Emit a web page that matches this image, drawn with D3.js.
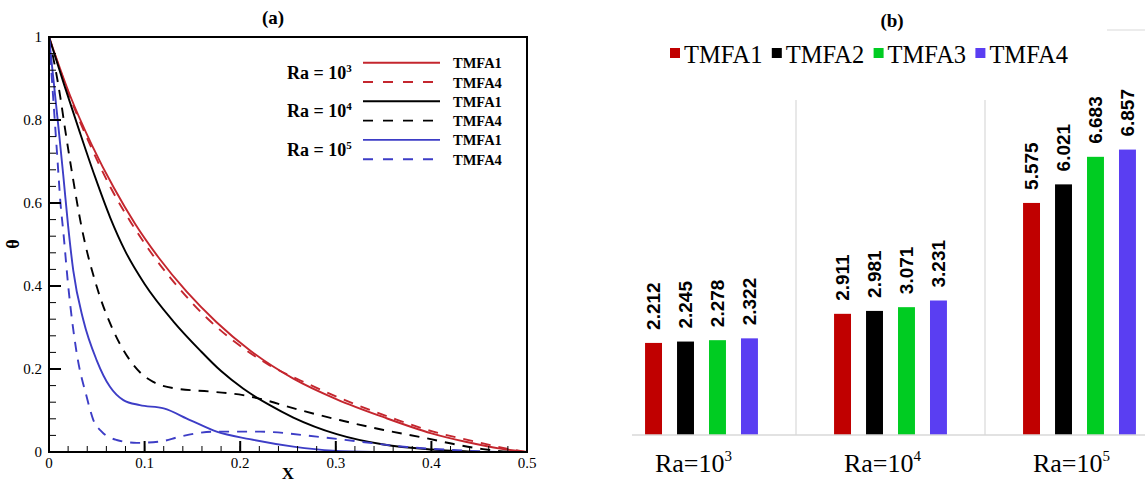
<!DOCTYPE html>
<html>
<head>
<meta charset="utf-8">
<script src="https://cdn.jsdelivr.net/npm/d3@7"></script>
<style>
  html, body { margin: 0; padding: 0; background: #fff; }
  svg { display: block; }
</style>
</head>
<body>
<svg id="fig" width="1145" height="483"></svg>
<script>
// ---------- (a) temperature profiles θ(X) ----------
const profileRa3TMFA1 = [[0,1],[0.022,0.859],[0.045,0.739],[0.068,0.636],[0.09,0.55],[0.115,0.4675],[0.144,0.3863],[0.175,0.3134],[0.21,0.2452],[0.2556,0.1768],[0.301,0.1269],[0.35,0.0838],[0.40,0.045],[0.437,0.024],[0.472,0.008],[0.5,0]];
const profileRa3TMFA4 = [[0,1],[0.02,0.867],[0.043,0.74],[0.065,0.635],[0.086,0.552],[0.11,0.47],[0.137,0.392],[0.166,0.321],[0.196,0.2625],[0.23,0.21],[0.273,0.162],[0.318,0.117],[0.36,0.081],[0.402,0.049],[0.444,0.026],[0.475,0.01],[0.5,0]];
const profileRa4TMFA1 = [[0,1],[0.016,0.884],[0.032,0.772],[0.048,0.664],[0.064,0.565],[0.08,0.483],[0.1,0.405],[0.13,0.315],[0.158,0.245],[0.18,0.195],[0.203,0.153],[0.23,0.114],[0.2556,0.083],[0.301,0.043],[0.35,0.018],[0.40,0.006],[0.45,0]];
const profileRa4TMFA4 = [[0,1],[0.0115,0.86],[0.0167,0.78],[0.025,0.66],[0.034,0.543],[0.05,0.398],[0.067,0.294],[0.085,0.22],[0.097,0.188],[0.109,0.169],[0.13,0.154],[0.172,0.145],[0.203,0.137],[0.221,0.128],[0.2626,0.101],[0.304,0.077],[0.35,0.053],[0.395,0.033],[0.426,0.018],[0.454,0.007],[0.48,0.001],[0.5,0]];
const profileRa5TMFA1 = [[0,1],[0.005,0.89],[0.01,0.78],[0.015,0.665],[0.02,0.545],[0.0254,0.437],[0.0359,0.318],[0.0499,0.221],[0.0638,0.157],[0.0778,0.125],[0.095,0.113],[0.12,0.105],[0.1475,0.077],[0.1754,0.049],[0.21,0.031],[0.2556,0.013],[0.297,0.003],[0.34,0]];
const profileRa5TMFA4 = [[0,1],[0.003,0.9],[0.006,0.8],[0.009,0.7],[0.012,0.6],[0.015,0.53],[0.0202,0.398],[0.029,0.238],[0.0394,0.133],[0.0464,0.077],[0.0551,0.049],[0.0708,0.029],[0.0917,0.022],[0.116,0.025],[0.137,0.037],[0.172,0.049],[0.2207,0.049],[0.28,0.037],[0.325,0.025],[0.374,0.012],[0.42,0.005],[0.47,0]];

const xTicksA = [0, 0.1, 0.2, 0.3, 0.4, 0.5];
const yTicksA = [0, 0.2, 0.4, 0.6, 0.8, 1];
const legendRaExponents = ["3", "4", "5"];

// ---------- (b) bar values ----------
const raExponents = ["3", "4", "5"];
const seriesNames = ["TMFA1", "TMFA2", "TMFA3", "TMFA4"];
const valuesTMFA1 = [2.212, 2.911, 5.575];
const valuesTMFA2 = [2.245, 2.981, 6.021];
const valuesTMFA3 = [2.278, 3.071, 6.683];
const valuesTMFA4 = [2.322, 3.231, 6.857];

const svg = d3.select("#fig");
const serif = "'Liberation Serif', 'Times New Roman', serif";
const sans = "'Liberation Sans', Arial, sans-serif";

// ================= Panel (a) =================
const A = { left: 49, right: 527, top: 37, bottom: 452 };
const xA = d3.scaleLinear().domain([0, 0.5]).range([A.left, A.right]);
const yA = d3.scaleLinear().domain([0, 1]).range([A.bottom, A.top]);

const curveColors = { "3": "#c4262e", "4": "#000000", "5": "#3d3dc6" };
const profiles = [
  { ra: "3", name: "TMFA1", dashed: false, data: profileRa3TMFA1 },
  { ra: "3", name: "TMFA4", dashed: true,  data: profileRa3TMFA4 },
  { ra: "4", name: "TMFA1", dashed: false, data: profileRa4TMFA1 },
  { ra: "4", name: "TMFA4", dashed: true,  data: profileRa4TMFA4 },
  { ra: "5", name: "TMFA1", dashed: false, data: profileRa5TMFA1 },
  { ra: "5", name: "TMFA4", dashed: true,  data: profileRa5TMFA4 }
];

const gA = svg.append("g");
const line = d3.line().x(d => xA(d[0])).y(d => yA(d[1])).curve(d3.curveMonotoneX);

gA.selectAll("path.profile").data(profiles).join("path")
  .attr("class", "profile")
  .attr("d", d => line(d.data))
  .attr("fill", "none")
  .attr("stroke", d => curveColors[d.ra])
  .attr("stroke-width", 1.9)
  .attr("stroke-dasharray", d => d.dashed ? "10,8" : null);

// frame
gA.append("rect")
  .attr("x", A.left).attr("y", A.top)
  .attr("width", A.right - A.left).attr("height", A.bottom - A.top)
  .attr("fill", "none").attr("stroke", "#000").attr("stroke-width", 2);

// inward ticks, bottom
const xMinor = d3.range(0, 0.5001, 0.02);
gA.selectAll("line.xminor").data(xMinor).join("line")
  .attr("x1", d => xA(d)).attr("x2", d => xA(d))
  .attr("y1", A.bottom).attr("y2", A.bottom - 6)
  .attr("stroke", "#000").attr("stroke-width", 1);
gA.selectAll("line.xmajor").data(xTicksA).join("line")
  .attr("x1", d => xA(d)).attr("x2", d => xA(d))
  .attr("y1", A.bottom).attr("y2", A.bottom - 11)
  .attr("stroke", "#000").attr("stroke-width", 2);
gA.selectAll("text.xlab").data(xTicksA).join("text")
  .attr("x", d => xA(d)).attr("y", 468)
  .attr("text-anchor", "middle")
  .attr("font-family", serif).attr("font-size", 15)
  .text(d => d3.format("~g")(d));

// inward ticks, left
const yMinor = d3.range(0, 1.0001, 0.04);
gA.selectAll("line.yminor").data(yMinor).join("line")
  .attr("x1", A.left).attr("x2", A.left + 7)
  .attr("y1", d => yA(d)).attr("y2", d => yA(d))
  .attr("stroke", "#000").attr("stroke-width", 1);
gA.selectAll("line.ymajor").data(yTicksA).join("line")
  .attr("x1", A.left).attr("x2", A.left + 12)
  .attr("y1", d => yA(d)).attr("y2", d => yA(d))
  .attr("stroke", "#000").attr("stroke-width", 2);
gA.selectAll("text.ylab").data(yTicksA).join("text")
  .attr("x", 42).attr("y", d => yA(d)).attr("dy", "0.35em")
  .attr("text-anchor", "end")
  .attr("font-family", serif).attr("font-size", 15)
  .text(d => d3.format("~g")(d));

// axis titles
gA.append("text").attr("x", 288).attr("y", 479)
  .attr("text-anchor", "middle").attr("font-family", serif)
  .attr("font-weight", "bold").attr("font-size", 17).text("X");
gA.append("text").attr("transform", "translate(19,244) rotate(-90)")
  .attr("text-anchor", "middle").attr("font-family", serif)
  .attr("font-weight", "bold").attr("font-size", 18).text("θ");
gA.append("text").attr("x", 273).attr("y", 24)
  .attr("text-anchor", "middle").attr("font-family", serif)
  .attr("font-weight", "bold").attr("font-size", 19).text("(a)");

// legend
const legRowY = i => 62.7 + i * 19.3;
const legA = gA.append("g");
profiles.forEach((p, i) => {
  legA.append("line")
    .attr("x1", 363).attr("x2", 440)
    .attr("y1", legRowY(i)).attr("y2", legRowY(i))
    .attr("stroke", curveColors[p.ra]).attr("stroke-width", 1.9)
    .attr("stroke-dasharray", p.dashed ? "10,10" : null);
  legA.append("text")
    .attr("x", 453).attr("y", legRowY(i) + 5.5)
    .attr("font-family", serif).attr("font-weight", "bold").attr("font-size", 14.5)
    .text(p.name);
});
legendRaExponents.forEach((e, i) => {
  const t = legA.append("text")
    .attr("x", 287).attr("y", 78.5 + i * 38.7)
    .attr("font-family", serif).attr("font-weight", "bold").attr("font-size", 18);
  t.append("tspan").text("Ra = 10");
  t.append("tspan").attr("dy", -7).attr("font-size", 11).text(e);
});

// ================= Panel (b) =================
const B = { top: 102, base: 435 };
const barColors = ["#c00000", "#000000", "#00cc22", "#5a3ef2"];
const seriesValues = [valuesTMFA1, valuesTMFA2, valuesTMFA3, valuesTMFA4];

const x0 = d3.scaleBand().domain(raExponents).range([607, 1174]);
const x1 = d3.scaleBand().domain(seriesNames).range([0, x0.bandwidth()])
  .paddingInner(0.47).paddingOuter(1.19);
const yB = d3.scaleLinear().domain([0, 8]).range([B.base, B.top]);
const color = d3.scaleOrdinal().domain(seriesNames).range(barColors);

const gB = svg.append("g");

// thin frame pieces and group separators
gB.append("line").attr("x1", 1107).attr("x2", 1145).attr("y1", 30).attr("y2", 30)
  .attr("stroke", "#d9d9d9").attr("stroke-width", 1);
gB.selectAll("line.sep").data(raExponents.slice(1)).join("line")
  .attr("x1", d => x0(d)).attr("x2", d => x0(d))
  .attr("y1", 100).attr("y2", B.base)
  .attr("stroke", "#d9d9d9").attr("stroke-width", 1.2);

const cells = [];
raExponents.forEach((r, gi) => {
  seriesNames.forEach((s, si) => cells.push({ ra: r, series: s, value: seriesValues[si][gi] }));
});

gB.selectAll("rect.bar").data(cells).join("rect")
  .attr("x", d => x0(d.ra) + x1(d.series))
  .attr("y", d => yB(d.value))
  .attr("width", x1.bandwidth())
  .attr("height", d => B.base - yB(d.value))
  .attr("fill", d => color(d.series));

gB.selectAll("text.val").data(cells).join("text")
  .attr("transform", d => `translate(${x0(d.ra) + x1(d.series) + x1.bandwidth() / 2},${yB(d.value) - 13}) rotate(-90)`)
  .attr("dy", "0.36em")
  .attr("font-family", sans).attr("font-weight", "bold").attr("font-size", 19)
  .text(d => d3.format(".3f")(d.value));

// baseline
gB.append("line").attr("x1", 632).attr("x2", 1145).attr("y1", B.base).attr("y2", B.base)
  .attr("stroke", "#d9d9d9").attr("stroke-width", 1.5);

// category labels
raExponents.forEach(r => {
  const t = gB.append("text")
    .attr("x", x0(r) + x0.bandwidth() / 2 - 8).attr("y", 472)
    .attr("text-anchor", "middle")
    .attr("font-family", serif).attr("font-size", 26);
  t.append("tspan").text("Ra=10");
  t.append("tspan").attr("dy", -11).attr("font-size", 15).text(r);
});

// legend
const legB = gB.append("g");
seriesNames.forEach((s, i) => {
  const x = 670 + i * 101.8;
  legB.append("rect").attr("x", x).attr("y", 48).attr("width", 10).attr("height", 10)
    .attr("fill", color(s));
  legB.append("text").attr("x", x + 14).attr("y", 62.5)
    .attr("font-family", serif).attr("font-size", 24.5).text(s);
});

gB.append("text").attr("x", 892).attr("y", 27)
  .attr("text-anchor", "middle").attr("font-family", serif)
  .attr("font-weight", "bold").attr("font-size", 19).text("(b)");
</script>
</body>
</html>
